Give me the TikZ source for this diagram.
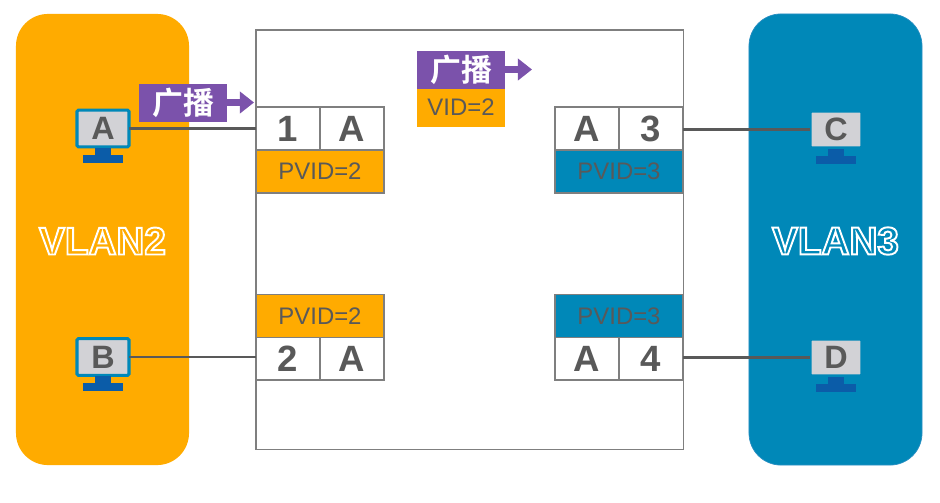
\documentclass[tikz,border=0pt]{standalone}
\usepackage{fontspec}
\setmainfont{Liberation Sans}
\newfontfamily\cjk{Noto Sans CJK SC}[BoldFont={* Bold}]
\newfontfamily\outlinefont{Liberation Sans Bold}[FakeBold=5]
\usetikzlibrary{calc,positioning,arrows.meta}

\definecolor{vlanorange}{HTML}{FFAB00}
\definecolor{vlanblue}{HTML}{0088B8}
\definecolor{pktpurple}{HTML}{7B52AB}
\definecolor{txtgray}{HTML}{595959}
\definecolor{linegray}{HTML}{7F7F7F}
\definecolor{scrgray}{HTML}{D2D2D6}
\definecolor{pedestal}{HTML}{0B5CA8}

\newcommand{\vlantext}[2]{\textcolor{#1}{\special{pdf:code 1 1 1 RG}\outlinefont #2}}

\tikzset{
  vlan/.style={rounded corners=0.8cm,minimum width=4.325cm,minimum height=11.275cm,inner sep=0pt,outer sep=0pt},
  pc/.style={draw=vlanblue,line width=2.2pt,fill=scrgray,rounded corners=1pt,minimum width=1.3cm,minimum height=0.92cm,
    inner sep=0pt,outer sep=0pt,text=txtgray,font=\fontsize{23}{23}\selectfont\bfseries},
  cell/.style={draw=linegray,fill=white,line width=0.8pt,minimum width=1.6cm,minimum height=1.075cm,inner sep=0pt,
    outer sep=0pt,text=txtgray,font=\fontsize{26}{26}\selectfont\bfseries},
  pvid/.style={draw=linegray,fill=#1,line width=0.8pt,minimum width=3.2cm,minimum height=1.075cm,inner sep=0pt,
    outer sep=0pt,text=txtgray,font=\fontsize{17}{17}\selectfont},
  pkt/.style={fill=pktpurple,minimum width=2.2cm,minimum height=0.95cm,inner sep=0pt,outer sep=0pt,text=white,
    font=\cjk\fontsize{22}{22}\selectfont\bfseries},
  vid/.style={fill=vlanorange,minimum width=2.2cm,minimum height=0.95cm,inner sep=0pt,outer sep=0pt,text=txtgray,
    font=\fontsize{17}{17}\selectfont},
  pktarrow/.style={draw=pktpurple,line width=5.5pt,-{Triangle[length=10pt,width=15pt]}},
  link/.style={draw=txtgray,line width=1.5pt},
  sw/.style={draw=linegray,line width=0.8pt,fill=white,minimum width=10.675cm,minimum height=10.475cm,inner sep=0pt}
}

\begin{document}
\begin{tikzpicture}[x=0.025cm,y=-0.025cm]
  \useasboundingbox (0,0) rectangle (940,502);

  \node[vlan,fill=vlanorange] (vlan2) at (102.5,239.5) {};
  \node[vlan,fill=vlanblue,draw=cyan!35!vlanblue,line width=0.5pt] (vlan3) at (835.5,239.5) {};
  \node (vlan2_t) at (102.5,241) {\fontsize{27.5}{27.5}\selectfont\vlantext{vlanorange}{VLAN2}};
  \node (vlan3_t) at (835.5,241) {\fontsize{27.5}{27.5}\selectfont\vlantext{vlanblue}{VLAN3}};

  \node[sw] (sw) at (469.5,239.5) {};

  %%%% ports
  \node[cell] (p1) at (288,128.5) {1};
  \node[cell,right=0pt of p1] (p1_a) {A};
  \node[pvid=vlanorange] (p1_v) at (320,171.5) {PVID=2};

  \node[cell] (p3) at (651,128.5) {3};
  \node[cell,left=0pt of p3] (p3_a) {A};
  \node[pvid=vlanblue] (p3_v) at (619,171.5) {PVID=3};

  \node[cell] (p2) at (288,358.5) {2};
  \node[cell,right=0pt of p2] (p2_a) {A};
  \node[pvid=vlanorange] (p2_v) at (320,316) {PVID=2};

  \node[cell] (p4) at (651,358.5) {4};
  \node[cell,left=0pt of p4] (p4_a) {A};
  \node[pvid=vlanblue] (p4_v) at (619,316) {PVID=3};

  %%%% hosts
  \node[pc] (pc_a) at (103,128.5) {A};
  \node[pc] (pc_b) at (103,357) {B};
  \node[pc] (pc_c) at (836,129.5) {C};
  \node[pc] (pc_d) at (836,357.5) {D};

  \foreach \h in {pc_a,pc_b,pc_c,pc_d} {
    \fill[pedestal] ($(\h.south)+(-8,1)$) rectangle ($(\h.south)+(8,9)$);
    \fill[pedestal] ($(\h.south)+(-20,8)$) rectangle ($(\h.south)+(20,16)$);
  }

  \draw[link] (pc_a.east) -- (pc_a.east -| p1.west);
  \draw[link] (pc_b.east) -- (pc_b.east -| p2.west);
  \draw[link] (pc_c.west) -- (pc_c.west -| p3.east);
  \draw[link] (pc_d.west) -- (pc_d.west -| p4.east);

  %%%% packets
  \node[pkt] (pkt1) at (183,102.5) {广播};
  \coordinate (pkt1_tip) at (254,102.5);
  \draw[pktarrow] (pkt1.east) -- (pkt1_tip);

  \node[pkt] (pkt2) at (461,69.5) {广播};
  \node[vid,below=0pt of pkt2] (pkt2_v) {VID=2};
  \coordinate (pkt2_tip) at (532,69.5);
  \draw[pktarrow] (pkt2.east) -- (pkt2_tip);

\end{tikzpicture}
\end{document}
